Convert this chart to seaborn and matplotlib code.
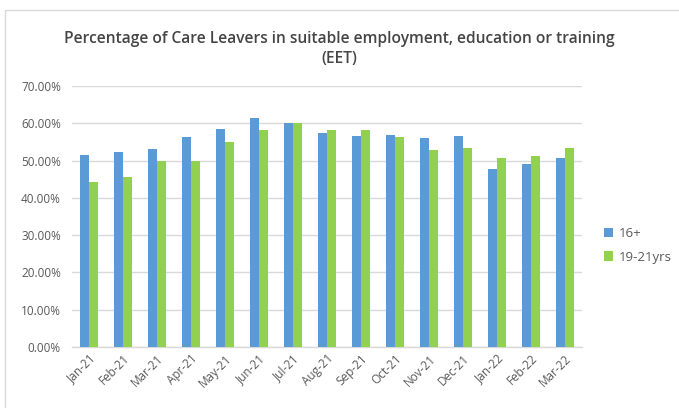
import matplotlib
matplotlib.use("Agg")
import matplotlib.pyplot as plt
import seaborn as sns
import pandas as pd
from matplotlib.patches import Rectangle
from matplotlib.ticker import FuncFormatter

months = ["Jan-21", "Feb-21", "Mar-21", "Apr-21", "May-21", "Jun-21", "Jul-21",
          "Aug-21", "Sep-21", "Oct-21", "Nov-21", "Dec-21", "Jan-22", "Feb-22", "Mar-22"]
series_names = ["16+", "19-21yrs"]
pct_16plus = [51.5, 52.2, 53.2, 56.4, 58.5, 61.5, 60.0, 57.3, 56.6, 56.9, 56.0, 56.6, 47.8, 49.2, 50.7]
pct_19_21 = [44.4, 45.7, 50.0, 50.0, 55.1, 58.1, 60.0, 58.3, 58.3, 56.3, 52.8, 53.4, 50.7, 51.3, 53.4]

df = pd.DataFrame({
    "Month": months * 2,
    "Group": [series_names[0]] * len(months) + [series_names[1]] * len(months),
    "Pct": [v / 100 for v in pct_16plus + pct_19_21],
})

sns.set_theme(style="white")
plt.rcParams["font.family"] = ["Open Sans", "DejaVu Sans"]

fig = plt.figure(figsize=(6.79, 4.08), dpi=100)
ax = fig.add_axes([0.106, 0.1495, 0.751, 0.6395])

palette = {"16+": "#5B9BD5", "19-21yrs": "#92D050"}
sns.barplot(data=df, x="Month", y="Pct", hue="Group", order=months,
            hue_order=series_names, palette=palette, width=0.54, gap=0.08,
            saturation=1, errorbar=None, linewidth=0, ax=ax, zorder=3)

ax.set_ylim(0, 0.70)
ax.set_xlim(-0.5, len(months) - 0.5)
ax.set_yticks([i / 10 for i in range(8)])
ax.yaxis.set_major_formatter(FuncFormatter(lambda v, _: f"{v * 100:.2f}%"))
ax.grid(axis="y", color="#D9D9D9", linewidth=1, zorder=0)
ax.set_axisbelow(True)
for side in ["top", "right", "left"]:
    ax.spines[side].set_visible(False)
ax.spines["bottom"].set_color("#D9D9D9")
ax.spines["bottom"].set_linewidth(1)
ax.set_xlabel("")
ax.set_ylabel("")
ax.tick_params(axis="both", length=0, colors="#595959", labelsize=8.5)
ax.tick_params(axis="y", pad=8)
plt.setp(ax.get_xticklabels(), rotation=45, ha="right", rotation_mode="anchor")

leg = ax.legend(loc="center left", bbox_to_anchor=(1.02, 0.39), frameon=False,
                handlelength=0.7, handleheight=0.7, handletextpad=0.4,
                labelspacing=0.8, fontsize=9.5)
for t in leg.get_texts():
    t.set_color("#595959")

fig.text(0.5, 0.905, "Percentage of Care Leavers in suitable employment, education or training",
         ha="center", va="center", fontsize=11.2, color="#454545", fontweight="semibold")
fig.text(0.5, 0.855, "(EET)", ha="center", va="center", fontsize=11.2, color="#454545",
         fontweight="semibold")

# light chart frame
fig.patches.append(Rectangle((0.008, -0.05), 1.2, 1.025, transform=fig.transFigure,
                             fill=False, edgecolor="#D9D9D9", linewidth=1))

fig.savefig("out.png", dpi=100)
